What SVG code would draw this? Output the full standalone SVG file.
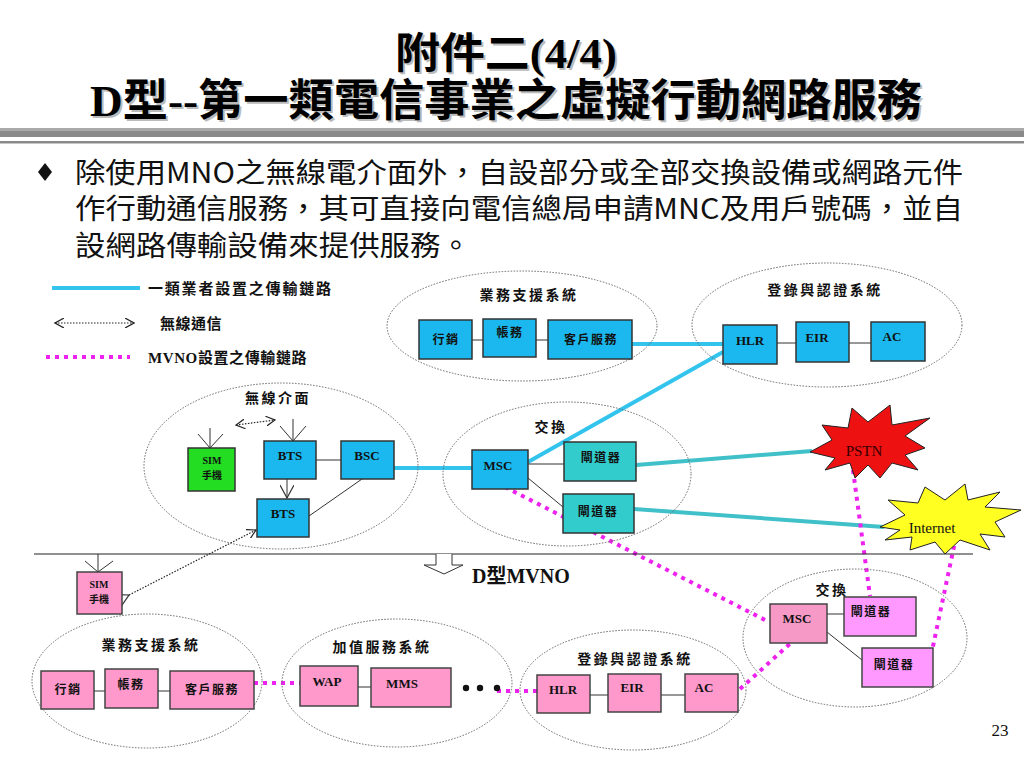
<svg xmlns="http://www.w3.org/2000/svg" width="1024" height="768" viewBox="0 0 1024 768">
<defs>
<style>
.ell{fill:none;stroke:#666;stroke-width:1;stroke-dasharray:1.5 1.5}
.cy{fill:#1ab8ee;stroke:#333;stroke-width:1.5}
.tl{fill:#33cccc;stroke:#333;stroke-width:1.5}
.gr{fill:#22dd22;stroke:#333;stroke-width:1.5}
.pk{fill:#ff99cc;stroke:#444;stroke-width:1.5}
.pm{fill:#ff99ff;stroke:#444;stroke-width:1.5}
.lk{stroke:#333;stroke-width:1;fill:none}
.cyl{stroke:#33c4ee;stroke-width:4;fill:none}
.tll{stroke:#40c0c8;stroke-width:4;fill:none}
.mg{stroke:#ee22ee;stroke-width:4;stroke-dasharray:4 5;fill:none}
.dt{stroke:#222;stroke-width:1.2;stroke-dasharray:1.5 1.5;fill:none}
.cj{font-family:"Noto Sans CJK TC",sans-serif;font-weight:bold;font-size:12px;letter-spacing:1.5px;text-anchor:middle;fill:#111}
.lab{font-family:"Noto Sans CJK TC",sans-serif;font-weight:bold;font-size:14px;letter-spacing:2.5px;text-anchor:middle;fill:#111}
.cjl{font-family:"Noto Sans CJK TC",sans-serif;font-weight:bold;font-size:15px;fill:#111}
.en{font-family:"Liberation Serif","Noto Sans CJK TC",serif;font-weight:bold;font-size:13px;text-anchor:middle;fill:#111}
.sm{font-family:"Liberation Serif","Noto Sans CJK TC",serif;font-weight:bold;font-size:10px;text-anchor:middle;fill:#111}
.ttl{font-family:"Liberation Serif","Noto Sans CJK TC",serif;font-weight:bold;text-anchor:middle}
.mv{font-family:"Liberation Serif","Noto Sans CJK TC",serif;font-weight:bold;font-size:20px;fill:#111}
.body{font-family:"Noto Sans CJK TC",sans-serif;font-size:28px;fill:#111}
</style>
<marker id="v" viewBox="0 0 10 10" refX="9" refY="5" markerWidth="10" markerHeight="10" markerUnits="userSpaceOnUse" orient="auto-start-reverse">
<path d="M0,0 L9,5 L0,10" fill="none" stroke="#222" stroke-width="1.2"/>
</marker>
<marker id="vb" viewBox="0 0 14 14" refX="13" refY="7" markerWidth="14" markerHeight="14" markerUnits="userSpaceOnUse" orient="auto">
<path d="M0,0 L13,7 L0,14" fill="none" stroke="#333" stroke-width="1.2"/>
</marker>
</defs>
<rect width="1024" height="768" fill="#fff"/>

<g id="title">
<text class="ttl" x="508" y="70" font-size="42" fill="#bbb" textLength="222" lengthAdjust="spacingAndGlyphs">附件二(4/4)</text>
<text class="ttl" x="506" y="68" font-size="42" fill="#000" textLength="222" lengthAdjust="spacingAndGlyphs">附件二(4/4)</text>
<text class="ttl" x="508" y="118" font-size="44" fill="#bbb" textLength="832" lengthAdjust="spacingAndGlyphs">D型--第一類電信事業之虛擬行動網路服務</text>
<text class="ttl" x="506" y="116" font-size="44" fill="#000" textLength="832" lengthAdjust="spacingAndGlyphs">D型--第一類電信事業之虛擬行動網路服務</text>
<rect x="0" y="128" width="1024" height="9" fill="#8a8a8a"/>
<rect x="0" y="128" width="1024" height="3" fill="#aaa"/>
<rect x="0" y="141" width="1024" height="2.5" fill="#8a8a8a"/>
</g>

<g id="bullet">
<path d="M45,163 L52,172 L45,181 L38,172 Z" fill="#111"/>
<text class="body" x="75" y="183" textLength="888" lengthAdjust="spacingAndGlyphs">除使用MNO之無線電介面外，自設部分或全部交換設備或網路元件</text>
<text class="body" x="75" y="219" textLength="888" lengthAdjust="spacingAndGlyphs">作行動通信服務，其可直接向電信總局申請MNC及用戶號碼，並自</text>
<text class="body" x="75" y="256" textLength="396" lengthAdjust="spacingAndGlyphs">設網路傳輸設備來提供服務。</text>
</g>

<g id="legend">
<line class="cyl" x1="52" y1="288" x2="140" y2="288" stroke-width="3"/>
<text class="cjl" x="148" y="294" letter-spacing="1.8">一類業者設置之傳輸鏈路</text>
<line class="dt" x1="55" y1="323" x2="134" y2="323" marker-start="url(#v)" marker-end="url(#v)"/>
<text class="cjl" x="160" y="329" letter-spacing="0.5">無線通信</text>
<line class="mg" x1="46" y1="357" x2="130" y2="357" stroke-width="3" stroke-dasharray="3 4"/>
<text class="cjl" x="148" y="363" font-size="14" letter-spacing="0.6"><tspan font-family="Liberation Serif,serif" font-size="15">MVNO</tspan>設置之傳輸鏈路</text>
</g>

<g id="connectors">
<line class="cyl" x1="632" y1="344" x2="723" y2="344"/>
<line class="cyl" x1="528" y1="462" x2="723" y2="352"/>
<line class="cyl" x1="394" y1="468" x2="472" y2="468"/>
<line class="tll" x1="636" y1="465" x2="812" y2="451"/>
<line class="tll" x1="634" y1="509" x2="884" y2="527"/>
<line class="lk" x1="472" y1="340" x2="483" y2="340"/>
<line class="lk" x1="536" y1="340" x2="548" y2="340"/>
<line class="lk" x1="777" y1="343" x2="796" y2="343"/>
<line class="lk" x1="849" y1="343" x2="871" y2="343"/>
<line class="lk" x1="316" y1="460" x2="341" y2="460"/>
<line class="lk" x1="362" y1="479" x2="309" y2="516"/>
<line class="lk" x1="528" y1="464" x2="564" y2="464"/>
<line class="lk" x1="528" y1="478" x2="563" y2="507"/>
<line class="lk" x1="94" y1="691" x2="105" y2="691"/>
<line class="lk" x1="158" y1="691" x2="170" y2="691"/>
<line class="lk" x1="358" y1="687" x2="371" y2="687"/>
<line class="lk" x1="590" y1="695" x2="608" y2="695"/>
<line class="lk" x1="661" y1="695" x2="685" y2="695"/>
<line class="lk" x1="827" y1="614" x2="844" y2="614"/>
<line class="lk" x1="827" y1="632" x2="862" y2="660"/>
<path class="lk" d="M210,428 L210,448 M198,434 L210,448 L223,434"/>
<path class="lk" d="M293,419 L293,441 M280,426 L293,441 L306,426"/>
<line class="lk" x1="287" y1="479" x2="287" y2="498" marker-end="url(#vb)"/>
<path class="lk" d="M98,554 L98,572 M85,561 L98,572 L113,561"/>
<line class="dt" x1="236" y1="425" x2="275" y2="420" marker-start="url(#v)" marker-end="url(#v)"/>
<line class="dt" x1="129" y1="595" x2="256" y2="530" marker-start="url(#vb)" marker-end="url(#v)"/>
<line class="mg" x1="505" y1="487" x2="767" y2="621"/>
<line class="mg" x1="740" y1="689" x2="793" y2="641"/>
<line class="mg" x1="853" y1="470" x2="870" y2="596"/>
<line class="mg" x1="956" y1="537" x2="932" y2="651"/>
<line class="mg" x1="254" y1="683" x2="300" y2="683"/>
<line class="mg" x1="497" y1="691" x2="537" y2="691"/>
</g>

<g id="divider">
<line x1="34" y1="554" x2="973" y2="554" stroke="#222" stroke-width="1.2"/>
<path d="M436,554 L436,565 L424,565 L444,574 L463,565 L452,565 L452,554" fill="#fff" stroke="#333" stroke-width="1"/>
<text class="mv" x="472" y="583">D型MVNO</text>
</g>

<g id="bss-top">
<ellipse class="ell" cx="522" cy="326" rx="135" ry="55"/>
<text class="lab" x="529" y="300">業務支援系統</text>
<g id="mkt-top"><rect class="cy" x="419" y="320" width="53" height="39"/><text class="cj" x="446" y="344">行銷</text></g>
<g id="bill-top"><rect class="cy" x="483" y="319" width="53" height="38"/><text class="cj" x="510" y="337">帳務</text></g>
<g id="cs-top"><rect class="cy" x="548" y="320" width="84" height="39"/><text class="cj" x="591" y="344">客戶服務</text></g>
</g>

<g id="auth-top">
<ellipse class="ell" cx="827" cy="325" rx="135" ry="62"/>
<text class="lab" x="825" y="295">登錄與認證系統</text>
<g id="hlr-top"><rect class="cy" x="723" y="325" width="54" height="39"/><text class="en" x="750" y="345">HLR</text></g>
<g id="eir-top"><rect class="cy" x="796" y="322" width="53" height="40"/><text class="en" x="817" y="342">EIR</text></g>
<g id="ac-top"><rect class="cy" x="871" y="322" width="54" height="39"/><text class="en" x="892" y="341">AC</text></g>
</g>

<g id="radio">
<ellipse class="ell" cx="281" cy="466" rx="137" ry="83"/>
<text class="lab" x="278" y="403">無線介面</text>
<g id="sim-top"><rect class="gr" x="188" y="448" width="47" height="43"/><text class="sm" x="212" y="464">SIM</text><text class="sm" x="212" y="479" font-size="9">手機</text></g>
<g id="bts1"><rect class="cy" x="264" y="441" width="52" height="38"/><text class="en" x="290" y="460">BTS</text></g>
<g id="bsc"><rect class="cy" x="341" y="441" width="53" height="38"/><text class="en" x="367" y="460">BSC</text></g>
<g id="bts2"><rect class="cy" x="257" y="499" width="52" height="38"/><text class="en" x="283" y="518">BTS</text></g>
</g>

<g id="switch-top">
<ellipse class="ell" cx="567" cy="474" rx="124" ry="72"/>
<text class="lab" x="551" y="432" font-size="15" letter-spacing="3">交換</text>
<g id="msc-top"><rect class="cy" x="472" y="450" width="56" height="39"/><text class="en" x="498" y="470">MSC</text></g>
<g id="gw1-top"><rect class="tl" x="564" y="442" width="72" height="39"/><text class="cj" x="601" y="462">閘道器</text></g>
<g id="gw2-top"><rect class="tl" x="563" y="494" width="71" height="39"/><text class="cj" x="598" y="516">閘道器</text></g>
</g>

<g id="pstn">
<polygon points="810,452 832,440 822,425 848,428 852,408 868,422 890,405 892,425 930,418 905,436 925,448 905,455 918,470 892,463 880,478 868,465 855,478 850,463 825,470 835,458" fill="#ee1111" stroke="#222" stroke-width="1"/>
<text x="864" y="456" font-family="Liberation Serif,serif" font-size="15" text-anchor="middle" fill="#330000">PSTN</text>
</g>

<g id="internet">
<polygon points="880,527 905,515 888,500 918,503 925,487 945,500 965,484 968,500 1000,492 985,507 1021,510 995,522 1005,537 980,534 990,550 960,540 945,554 935,542 910,550 912,537 885,540 900,530" fill="#ffff22" stroke="#222" stroke-width="1"/>
<text x="932" y="533" font-family="Liberation Serif,serif" font-size="15" text-anchor="middle" fill="#111">Internet</text>
</g>

<g id="sim-bottom"><rect class="pk" x="77" y="572" width="45" height="42"/><text class="sm" x="99" y="588">SIM</text><text class="sm" x="99" y="603" font-size="9">手機</text></g>

<g id="bss-bottom">
<ellipse class="ell" cx="147" cy="681" rx="115" ry="67"/>
<text class="lab" x="151" y="650">業務支援系統</text>
<g id="mkt-b"><rect class="pk" x="41" y="671" width="53" height="38"/><text class="cj" x="68" y="694">行銷</text></g>
<g id="bill-b"><rect class="pk" x="105" y="669" width="53" height="39"/><text class="cj" x="131" y="689">帳務</text></g>
<g id="cs-b"><rect class="pk" x="170" y="671" width="84" height="38"/><text class="cj" x="212" y="694">客戶服務</text></g>
</g>

<g id="vas">
<ellipse class="ell" cx="397" cy="683" rx="115" ry="64"/>
<text class="lab" x="382" y="652">加值服務系統</text>
<g id="wap"><rect class="pk" x="300" y="666" width="58" height="40"/><text class="en" x="327" y="686">WAP</text></g>
<g id="mms"><rect class="pk" x="371" y="668" width="80" height="39"/><text class="en" x="402" y="688">MMS</text></g>
<circle cx="466" cy="688" r="3.2" fill="#111"/>
<circle cx="480" cy="688" r="3.2" fill="#111"/>
<circle cx="497" cy="688" r="3.2" fill="#111"/>
</g>

<g id="auth-bottom">
<ellipse class="ell" cx="633" cy="690" rx="113" ry="60"/>
<text class="lab" x="635" y="664">登錄與認證系統</text>
<g id="hlr-b"><rect class="pk" x="537" y="675" width="53" height="38"/><text class="en" x="563" y="694">HLR</text></g>
<g id="eir-b"><rect class="pk" x="608" y="674" width="53" height="38"/><text class="en" x="632" y="692">EIR</text></g>
<g id="ac-b"><rect class="pk" x="685" y="674" width="53" height="38"/><text class="en" x="704" y="692">AC</text></g>
</g>

<g id="switch-bottom">
<ellipse class="ell" cx="855" cy="638" rx="112" ry="69"/>
<text class="lab" x="832" y="595" font-size="15" letter-spacing="3">交換</text>
<g id="msc-b"><rect class="pk" x="770" y="604" width="57" height="39" style="fill:#f799c6"/><text class="en" x="797" y="623">MSC</text></g>
<g id="gw1-b"><rect class="pm" x="844" y="597" width="72" height="39"/><text class="cj" x="871" y="616">閘道器</text></g>
<g id="gw2-b"><rect class="pm" x="862" y="648" width="71" height="39"/><text class="cj" x="894" y="669">閘道器</text></g>
</g>

<text x="1000" y="736" font-family="Liberation Serif,serif" font-size="17" text-anchor="middle" fill="#111">23</text>
</svg>
